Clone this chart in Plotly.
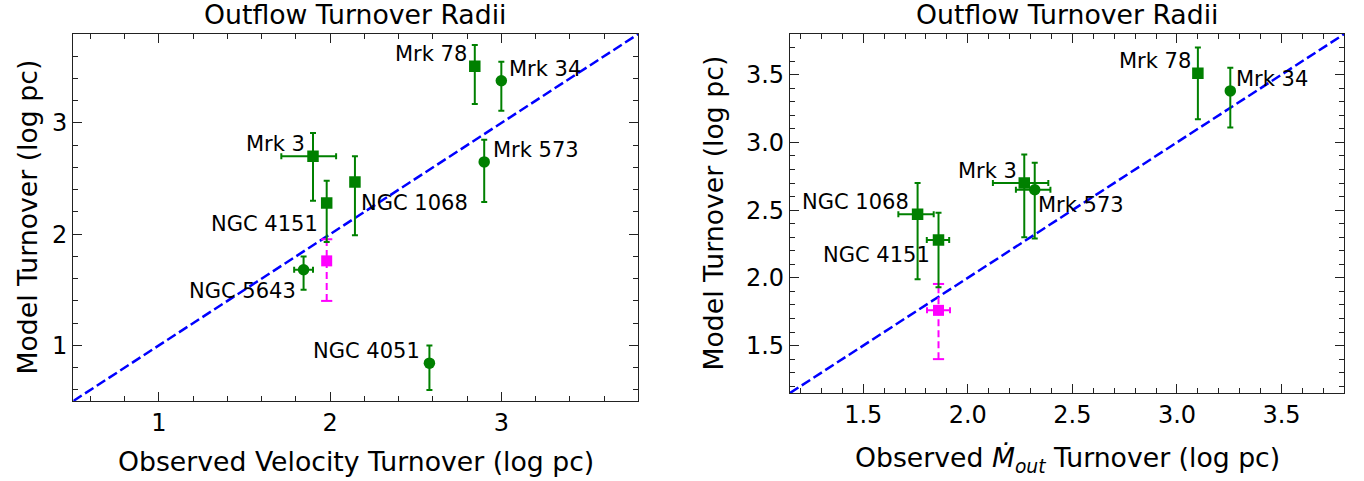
import plotly.graph_objects as go

# ---------------- data ----------------
names = ["Mrk 3", "Mrk 34", "Mrk 78", "Mrk 573", "NGC 1068", "NGC 4051", "NGC 4151", "NGC 5643"]
model_turnover = [2.70, 3.38, 3.51, 2.65, 2.47, 0.84, 2.28, 1.68]
model_err_plus = [0.21, 0.17, 0.19, 0.20, 0.23, 0.16, 0.20, 0.12]
model_err_minus = [0.40, 0.27, 0.34, 0.36, 0.48, 0.24, 0.35, 0.18]

vel_turnover = [1.90, 3.00, 2.845, 2.90, 2.145, 2.58, 1.98, 1.845]
vel_err_plus = [0.135, 0, 0, 0, 0, 0, 0, 0.055]
vel_err_minus = [0.185, 0, 0, 0, 0, 0, 0, 0.055]

mdot_names = ["Mrk 3", "Mrk 34", "Mrk 78", "Mrk 573", "NGC 1068", "NGC 4151"]
mdot_turnover = [2.27, 3.255, 3.10, 2.32, 1.76, 1.86]
mdot_err_plus = [0.115, 0, 0, 0.075, 0.077, 0.051]
mdot_err_minus = [0.15, 0, 0, 0.09, 0.092, 0.056]

extra_model = [1.76]
extra_model_plus = [0.195]
extra_model_minus = [0.36]
extra_vel = [1.98]
extra_mdot = [1.86]
extra_mdot_err = [0.055]

# ---------------- styles ----------------
square_objects = {"Mrk 3", "Mrk 78", "NGC 1068", "NGC 4151"}
GREEN = "#008000"
MAG = "#ff00ff"
FONT = "DejaVu Sans"
W, H = 1364, 481

left_range = [0.5, 3.8]
right_range = [1.15, 3.8]

# label placement: (xanchor, xshift px, yshift px)
left_place = {
    "Mrk 3": ("right", -6, 12), "Mrk 34": ("left", 6, 12), "Mrk 78": ("right", -6, 12),
    "Mrk 573": ("left", 7, 12), "NGC 1068": ("left", 4, -21), "NGC 4051": ("right", -7, 12),
    "NGC 4151": ("right", -7, -21), "NGC 5643": ("right", -6, -21),
}
right_place = {
    "Mrk 3": ("right", -5, 12), "Mrk 34": ("left", 4, 12), "Mrk 78": ("right", -5, 12),
    "Mrk 573": ("left", 1, -15), "NGC 1068": ("right", -7, 12), "NGC 4151": ("right", -7, -15),
}

fig = go.Figure()

def add_panel(xs, xp, xm, ys, yp, ym, labels, xa, ya, place, rng, ex_x, ex_x_err):
    syms = ["square" if n in square_objects else "circle" for n in labels]
    # 1:1 line
    fig.add_trace(go.Scatter(x=rng, y=rng, mode="lines", xaxis=xa, yaxis=ya,
                             line=dict(color="#0000ff", width=2.5, dash="10px,4px"),
                             showlegend=False, hoverinfo="skip"))
    # magenta point: dashed vertical error bar with caps
    for xv, yv, p, m in zip(ex_x, extra_model, extra_model_plus, extra_model_minus):
        fig.add_trace(go.Scatter(x=[xv, xv], y=[yv - m, yv + p], mode="lines+markers",
                                 xaxis=xa, yaxis=ya,
                                 line=dict(color=MAG, width=2, dash="7px,4px"),
                                 marker=dict(symbol="line-ew", size=8,
                                             line=dict(color=MAG, width=2)),
                                 showlegend=False, hoverinfo="skip"))
    ex_kw = {}
    if ex_x_err is not None:
        ex_kw["error_x"] = dict(type="data", array=ex_x_err, color=MAG, thickness=2, width=3)
    fig.add_trace(go.Scatter(x=ex_x, y=extra_model, mode="markers", xaxis=xa, yaxis=ya,
                             marker=dict(symbol="square", size=11, color=MAG),
                             showlegend=False, **ex_kw))
    # green points
    fig.add_trace(go.Scatter(
        x=xs, y=ys, mode="markers", xaxis=xa, yaxis=ya,
        marker=dict(symbol=syms, size=11.5, color=GREEN),
        error_y=dict(type="data", array=yp, arrayminus=ym, color=GREEN, thickness=2, width=3),
        error_x=dict(type="data", array=xp, arrayminus=xm, color=GREEN, thickness=2, width=3),
        showlegend=False))
    for n, xv, yv in zip(labels, xs, ys):
        anc, dx, dy = place[n]
        fig.add_annotation(x=xv, y=yv, xref=xa, yref=ya, text=n, showarrow=False,
                           xanchor=anc, yanchor="middle", xshift=dx, yshift=dy,
                           font=dict(family=FONT, size=21, color="black"))

# left panel
left_y = [model_turnover[names.index(n)] for n in names]
add_panel(vel_turnover, vel_err_plus, vel_err_minus, model_turnover, model_err_plus,
          model_err_minus, names, "x", "y", left_place, left_range, extra_vel, None)

# right panel
r_y = [model_turnover[names.index(n)] for n in mdot_names]
r_yp = [model_err_plus[names.index(n)] for n in mdot_names]
r_ym = [model_err_minus[names.index(n)] for n in mdot_names]
add_panel(mdot_turnover, mdot_err_plus, mdot_err_minus, r_y, r_yp, r_ym, mdot_names,
          "x2", "y2", right_place, right_range, extra_mdot, extra_mdot_err)

axis_common = dict(showline=True, linecolor="#222", linewidth=1.2, mirror="allticks",
                   ticks="inside", ticklen=9, tickwidth=1, tickcolor="#222",
                   showgrid=False, zeroline=False,
                   tickfont=dict(family=FONT, size=24, color="black"))

lx0, lx1 = 73.3 / W, 638.3 / W
rx0, rx1 = 790.0 / W, 1344.3 / W
ly0, ly1 = (H - 401) / H, (H - 34) / H
ry0, ry1 = (H - 393) / H, (H - 34) / H

fig.update_layout(
    width=W, height=H, margin=dict(l=0, r=0, t=0, b=0),
    paper_bgcolor="white", plot_bgcolor="white",
    font=dict(family=FONT, color="black"),
    xaxis=dict(domain=[lx0, lx1], range=left_range, dtick=1, tick0=0,
               minor=dict(dtick=0.2, ticks="inside", ticklen=5, tickcolor="#222", tickwidth=1),
               anchor="y", **axis_common),
    yaxis=dict(domain=[ly0, ly1], range=left_range, dtick=1, tick0=0,
               minor=dict(dtick=0.2, ticks="inside", ticklen=5, tickcolor="#222", tickwidth=1),
               anchor="x", **axis_common),
    xaxis2=dict(domain=[rx0, rx1], range=right_range, dtick=0.5, tick0=0, tickformat=".1f",
                minor=dict(dtick=0.1, ticks="inside", ticklen=5, tickcolor="#222", tickwidth=1),
                anchor="y2", **axis_common),
    yaxis2=dict(domain=[ry0, ry1], range=right_range, dtick=0.5, tick0=0, tickformat=".1f",
                minor=dict(dtick=0.1, ticks="inside", ticklen=5, tickcolor="#222", tickwidth=1),
                anchor="x2", **axis_common),
)

title_font = dict(family=FONT, size=26.7, color="black")
# panel titles
for cx in [(lx0 + lx1) / 2, (rx0 + rx1) / 2]:
    fig.add_annotation(x=cx, y=(H - 15) / H, xref="paper", yref="paper",
                       text="Outflow Turnover Radii", showarrow=False,
                       xanchor="center", yanchor="middle", font=title_font)
# axis titles
fig.add_annotation(x=(lx0 + lx1) / 2, y=(H - 461) / H, xref="paper", yref="paper",
                   text="Observed Velocity Turnover (log pc)", showarrow=False,
                   xanchor="center", yanchor="middle", font=title_font)
fig.add_annotation(x=(rx0 + rx1) / 2, y=(H - 459) / H, xref="paper", yref="paper",
                   text="Observed <i>Ṁ</i><sub><i>out</i></sub> Turnover (log pc)",
                   showarrow=False, xanchor="center", yanchor="middle", font=title_font)
fig.add_annotation(x=27 / W, y=(ly0 + ly1) / 2, xref="paper", yref="paper",
                   text="Model Turnover (log pc)", showarrow=False, textangle=-90,
                   xanchor="center", yanchor="middle", font=title_font)
fig.add_annotation(x=713 / W, y=(ry0 + ry1) / 2, xref="paper", yref="paper",
                   text="Model Turnover (log pc)", showarrow=False, textangle=-90,
                   xanchor="center", yanchor="middle", font=title_font)

fig.write_html("out.html")
